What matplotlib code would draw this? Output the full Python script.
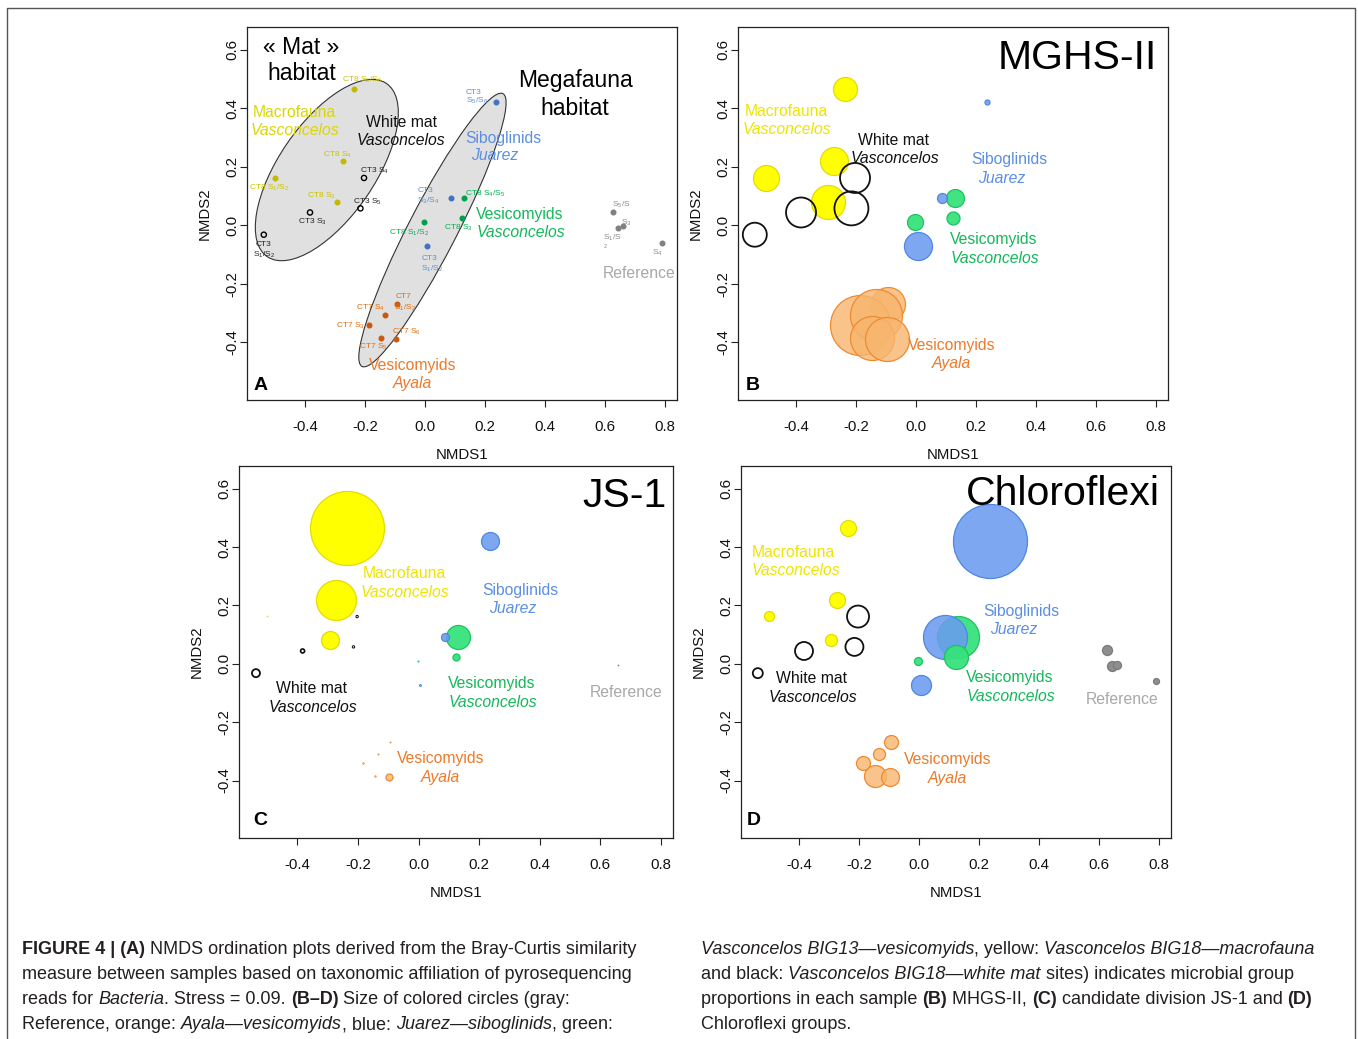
import matplotlib
matplotlib.use("Agg")
import matplotlib.pyplot as plt
from matplotlib.transforms import Affine2D
from matplotlib.patches import Ellipse
from matplotlib.lines import Line2D
from matplotlib.font_manager import FontProperties
from matplotlib.colors import to_rgba

plt.rcParams['font.family'] = ['Liberation Sans', 'DejaVu Sans']
plt.rcParams['mathtext.fontset'] = 'custom'
plt.rcParams['mathtext.rm'] = 'Liberation Sans'
plt.rcParams['mathtext.it'] = 'Liberation Sans:italic'
plt.rcParams['mathtext.bf'] = 'Liberation Sans:bold'
plt.rcParams['axes.unicode_minus'] = False

# ------------------------------------------------------------------ data
# NMDS coordinates per group (same ordination in every panel)
mac_lab = ['CT8 S1/S2', 'CT8 S3', 'CT8 S4', 'CT8 S5/S6']
mac_x = [-0.500, -0.293, -0.272, -0.237]
mac_y = [0.163, 0.081, 0.219, 0.467]

wm_lab = ['CT3 S1/S2', 'CT3 S3', 'CT3 S4', 'CT3 S5']
wm_x = [-0.537, -0.383, -0.203, -0.215]
wm_y = [-0.032, 0.044, 0.162, 0.058]

sib_lab = ['CT3 S1/S2', 'CT3 S3/S4', 'CT3 S5/S6']
sib_x = [0.006, 0.088, 0.237]
sib_y = [-0.072, 0.092, 0.421]

vesv_lab = ['CT8 S1/S2', 'CT8 S3', 'CT8 S4/S5']
vesv_x = [-0.003, 0.122, 0.130]
vesv_y = [0.010, 0.024, 0.092]

aya_lab = ['CT7 S1/S2', 'CT7 S3', 'CT7 S4', 'CT7 S5', 'CT7 S6']
aya_x = [-0.093, -0.185, -0.133, -0.145, -0.097]
aya_y = [-0.268, -0.339, -0.308, -0.385, -0.388]

ref_lab = ['S1/S2', 'S3', 'S4', 'S5/S6']
ref_x = [0.643, 0.660, 0.789, 0.627]
ref_y = [-0.008, -0.003, -0.060, 0.047]

# relative bubble magnitude (radius units) of each microbial group per sample
mghs_mac = [13, 17, 14, 12]
mghs_wm = [12, 15, 15, 17]
mghs_sib = [14, 5, 2.5]
mghs_vesv = [8, 6.5, 9]
mghs_aya = [17, 30, 26, 22, 22]
mghs_ref = [0, 0, 0, 0]

js1_mac = [0.6, 9, 20, 37]
js1_wm = [4, 2, 1.2, 1.2]
js1_sib = [1, 4, 9]
js1_vesv = [0.7, 3.5, 12]
js1_aya = [0.7, 0.8, 0.7, 0.8, 3.5]
js1_ref = [0, 0.6, 0, 0]

chl_mac = [5, 6, 8, 8]
chl_wm = [5, 9, 11, 9]
chl_sib = [10, 22, 37]
chl_vesv = [4, 12, 21]
chl_aya = [7, 7, 6, 11, 9]
chl_ref = [5, 4, 3, 5]

x_ticks = [-0.4, -0.2, 0.0, 0.2, 0.4, 0.6, 0.8]
y_ticks = [-0.4, -0.2, 0.0, 0.2, 0.4, 0.6]
x_ticklabels = ['-0.4', '-0.2', '0.0', '0.2', '0.4', '0.6', '0.8']
y_ticklabels = ['-0.4', '-0.2', '0.0', '0.2', '0.4', '0.6']

# ------------------------------------------------------------------ figure
W, H = 1358, 1039
fig = plt.figure(figsize=(W / 100, H / 100), dpi=100)
PX = Affine2D().scale(1.0 / W, -1.0 / H).translate(0, 1) + fig.transFigure

XL = (-0.593, 0.84)
YL = (-0.597, 0.678)


def make_ax(l, t, r, b):
    ax = fig.add_axes([l / W, 1 - b / H, (r - l) / W, (b - t) / H])
    ax.set_xlim(*XL)
    ax.set_ylim(*YL)
    ax.set_xticks(x_ticks, x_ticklabels)
    ax.set_yticks(y_ticks, y_ticklabels, rotation=90, va='center')
    ax.tick_params(axis='both', direction='out', length=5, width=0.8,
                   labelsize=10.8, color='#222222', labelcolor='#111111')
    ax.tick_params(axis='x', pad=9.3)
    ax.tick_params(axis='y', pad=0.5)
    for s in ax.spines.values():
        s.set_linewidth(0.9)
        s.set_color('#222222')
    return ax


boxes = {'A': (247, 27, 677, 400), 'B': (738, 27, 1168, 400),
         'C': (239, 466, 673, 838), 'D': (741, 466, 1171, 838)}
axes = {k: make_ax(*v) for k, v in boxes.items()}

for k, (l, t, r, b) in boxes.items():
    cx = (l + r) / 2
    fig.text(cx, b + 55, 'NMDS1', transform=PX, ha='center', va='center',
             fontsize=10.8, color='#111111')
    fig.text(l - 42, (t + b) / 2, 'NMDS2', transform=PX, ha='center',
             va='center', rotation=90, fontsize=10.8, color='#111111')

# frame around the figure
fig.add_artist(Line2D([7, 7, 1355, 1355], [1039, 8, 8, 1039], transform=PX,
                      color='#555555', lw=1.0))


def ptxt(x, y, s, color, size=11.3, style='normal', weight='normal',
         ha='center', va='baseline'):
    fig.text(x, y, s, transform=PX, ha=ha, va=va, color=color,
             fontsize=size, fontstyle=style, fontweight=weight, zorder=20)


YEL_T = '#efe400'
BLU_T = '#5b8fe2'
GRN_T = '#13b85a'
ORA_T = '#ec7a2a'
REF_T = '#a8a8a8'

# ------------------------------------------------------------------ panel A
ax = axes['A']
ax.add_patch(Ellipse((-0.327, 0.189), 0.713, 0.321, angle=56.4,
                     facecolor='#e0e0e0', edgecolor='#333333', lw=0.8, zorder=1))
ax.add_patch(Ellipse((0.025, -0.016), 1.044, 0.162, angle=63.3,
                     facecolor='#e0e0e0', edgecolor='#333333', lw=0.8, zorder=1))
ax.scatter(mac_x, mac_y, s=11, color='#c2b900', zorder=3)
ax.scatter(wm_x, wm_y, s=14, facecolor='none', edgecolor='black', lw=1.0, zorder=3)
ax.scatter(sib_x, sib_y, s=11, color='#4472c4', zorder=3)
ax.scatter(vesv_x, vesv_y, s=11, color='#00a04a', zorder=3)
ax.scatter(aya_x, aya_y, s=11, color='#c55a11', zorder=3)
ax.scatter(ref_x, ref_y, s=11, color='#808080', zorder=3)

S = 6


def sub(a, b=None):
    if b is None:
        return r'$\mathrm{S}_{%s}$' % a
    return r'$\mathrm{S}_{%s}/\mathrm{S}_{%s}$' % (a, b)


YA = '#c9c200'
for s, x, y in [('CT8 ' + sub(5, 6), 362, 80), ('CT8 ' + sub(4), 337, 155),
                ('CT8 ' + sub(1, 2), 269, 188), ('CT8 ' + sub(3), 321, 196)]:
    ptxt(x, y, s, YA, size=S, va='center')
for s, x, y in [('CT3 ' + sub(4), 374, 171), ('CT3 ' + sub(5), 367, 202),
                ('CT3 ' + sub(3), 312, 222), ('CT3', 264, 245), (sub(1, 2), 264, 255)]:
    ptxt(x, y, s, '#222222', size=S, va='center')
for s, x, y in [('CT3', 474, 92), (sub(5, 6), 477, 101), ('CT3', 426, 191),
                (sub(3, 4), 428, 201), ('CT3', 430, 259), (sub(1, 2), 432, 269)]:
    ptxt(x, y, s, '#5b8fd9', size=S, va='center')
for s, x, y in [('CT8 ' + sub(4, 5), 485, 194), ('CT8 ' + sub(1, 2), 409, 233),
                ('CT8 ' + sub(3), 458, 228)]:
    ptxt(x, y, s, '#00b050', size=S, va='center')
for s, x, y in [('CT7', 403, 297), (sub(1, 2), 405, 308), ('CT7 ' + sub(4), 370, 308),
                ('CT7 ' + sub(3), 350, 326), ('CT7 ' + sub(6), 406, 332),
                ('CT7 ' + sub(5), 373, 347)]:
    ptxt(x, y, s, '#e46c0a', size=S, va='center')
for s, x, y in [(r'$\mathrm{S}_{5}/\mathrm{S}$', 621, 205), (sub(3), 626, 223),
                (r'$\mathrm{S}_{1}/\mathrm{S}$', 612, 238), ('2', 605, 247),
                (sub(4), 657, 253)]:
    ptxt(x, y, s, '#8a8a8a', size=S if s != '2' else 4, va='center')

ptxt(301, 54, '« Mat »', 'black', size=16.5)
ptxt(301.5, 80, 'habitat', 'black', size=16.5)
ptxt(575, 87, 'Megafauna', 'black', size=16.5)
ptxt(575, 115, 'habitat', 'black', size=16.5)
ptxt(294.5, 117, 'Macrofauna', '#dcd600')
ptxt(295, 135, 'Vasconcelos', '#dcd600', style='italic')
ptxt(401, 127, 'White mat', '#111111')
ptxt(401, 145, 'Vasconcelos', '#111111', style='italic')
ptxt(503.5, 143, 'Siboglinids', BLU_T)
ptxt(495, 160, 'Juarez', BLU_T, style='italic')
ptxt(520, 219, 'Vesicomyids', GRN_T)
ptxt(520.5, 237, 'Vasconcelos', GRN_T, style='italic')
ptxt(413, 370, 'Vesicomyids', ORA_T)
ptxt(412, 388, 'Ayala', ORA_T, style='italic')
ptxt(639.5, 278, 'Reference', REF_T)
ptxt(254, 390, 'A', 'black', size=14, weight='bold', ha='left')

# ------------------------------------------------------------------ bubble panels
STY = {
    'ref': dict(fc=to_rgba('#8e8e8e', 1.0), ec='#7a7a7a', z=2),
    'aya': dict(fc=to_rgba('#f7b66f', 0.8), ec='#ef8a2e', z=3),
    'mac': dict(fc=to_rgba('#ffff00', 1.0), ec='#e4dc00', z=4),
    'wm': dict(fc='none', ec='#111111', z=5),
    'vesv': dict(fc=to_rgba('#37e27c', 0.95), ec='#1fc263', z=6),
    'sib': dict(fc=to_rgba('#6b9cf0', 0.88), ec='#4f86e4', z=7),
}
COORD = {'ref': (ref_x, ref_y), 'aya': (aya_x, aya_y), 'mac': (mac_x, mac_y),
         'wm': (wm_x, wm_y), 'vesv': (vesv_x, vesv_y), 'sib': (sib_x, sib_y)}


def bubbles(ax, sizes):
    for g, vals in sizes.items():
        xs, ys = COORD[g]
        st = STY[g]
        for i, (x, y, r) in enumerate(zip(xs, ys, vals)):
            if r <= 0:
                continue
            z = st['z']
            if g == 'vesv' and i < 2:
                z = 8
            lw = 1.3 if g == 'wm' else 0.9
            lw = min(lw, r * 0.6)
            ax.scatter([x], [y], s=(1.44 * r) ** 2, facecolor=st['fc'],
                       edgecolor=st['ec'], linewidth=lw, zorder=z)


bubbles(axes['B'], {'ref': mghs_ref, 'aya': mghs_aya, 'mac': mghs_mac,
                    'wm': mghs_wm, 'vesv': mghs_vesv, 'sib': mghs_sib})
bubbles(axes['C'], {'ref': js1_ref, 'aya': js1_aya, 'mac': js1_mac,
                    'wm': js1_wm, 'vesv': js1_vesv, 'sib': js1_sib})
bubbles(axes['D'], {'ref': chl_ref, 'aya': chl_aya, 'mac': chl_mac,
                    'wm': chl_wm, 'vesv': chl_vesv, 'sib': chl_sib})

# panel B texts
ptxt(1157, 69, 'MGHS-II', 'black', size=29.5, ha='right')
ptxt(786.5, 116, 'Macrofauna', YEL_T)
ptxt(787, 134, 'Vasconcelos', YEL_T, style='italic')
ptxt(893.5, 145, 'White mat', '#111111')
ptxt(894.5, 163, 'Vasconcelos', '#111111', style='italic')
ptxt(1009.5, 164, 'Siboglinids', BLU_T)
ptxt(1001.5, 183, 'Juarez', BLU_T, style='italic')
ptxt(994, 244, 'Vesicomyids', GRN_T)
ptxt(994.5, 263, 'Vasconcelos', GRN_T, style='italic')
ptxt(952, 350, 'Vesicomyids', ORA_T)
ptxt(951, 368, 'Ayala', ORA_T, style='italic')
ptxt(746, 390, 'B', 'black', size=14, weight='bold', ha='left')

# panel C texts
ptxt(667, 507, 'JS-1', 'black', size=29.5, ha='right')
ptxt(404.5, 578, 'Macrofauna', YEL_T)
ptxt(404.5, 597, 'Vasconcelos', YEL_T, style='italic')
ptxt(520, 595, 'Siboglinids', BLU_T)
ptxt(512.5, 613, 'Juarez', BLU_T, style='italic')
ptxt(312, 693, 'White mat', '#111111')
ptxt(312.5, 712, 'Vasconcelos', '#111111', style='italic')
ptxt(492, 688, 'Vesicomyids', GRN_T)
ptxt(492.5, 707, 'Vasconcelos', GRN_T, style='italic')
ptxt(626, 697, 'Reference', REF_T)
ptxt(441, 763, 'Vesicomyids', ORA_T)
ptxt(440, 782, 'Ayala', ORA_T, style='italic')
ptxt(253, 825, 'C', 'black', size=14, weight='bold', ha='left')

# panel D texts
ptxt(1160, 505, 'Chloroflexi', 'black', size=29.5, ha='right')
ptxt(793.5, 557, 'Macrofauna', YEL_T)
ptxt(795.5, 575, 'Vasconcelos', YEL_T, style='italic')
ptxt(1021.5, 616, 'Siboglinids', BLU_T)
ptxt(1013.5, 634, 'Juarez', BLU_T, style='italic')
ptxt(811.5, 683, 'White mat', '#111111')
ptxt(812.5, 702, 'Vasconcelos', '#111111', style='italic')
ptxt(1009.5, 682, 'Vesicomyids', GRN_T)
ptxt(1010.5, 701, 'Vasconcelos', GRN_T, style='italic')
ptxt(1122.5, 704, 'Reference', REF_T)
ptxt(947.5, 764, 'Vesicomyids', ORA_T)
ptxt(947, 783, 'Ayala', ORA_T, style='italic')
ptxt(747, 825, 'D', 'black', size=14, weight='bold', ha='left')

# ------------------------------------------------------------------ caption
renderer = fig.canvas.get_renderer()
CAP_FAMILY = 'Liberation Sans'


def fprop(size, kind):
    return FontProperties(family=CAP_FAMILY, size=size,
                          weight='bold' if kind == 'b' else 'normal',
                          style='italic' if kind == 'i' else 'normal')


def width(s, size, kind):
    fp = fprop(size, kind)
    w1 = renderer.get_text_width_height_descent(s + '|', fp, ismath=False)[0]
    w2 = renderer.get_text_width_height_descent('|', fp, ismath=False)[0]
    return w1 - w2


ref_line = 'measure between samples based on taxonomic affiliation of pyrosequencing'
cap_size = 10 * 610 / width(ref_line, 10, 'n') * 100 / 72 * 72 / 100

left_lines = [
    [('FIGURE 4 | (A)', 'b'), (' NMDS ordination plots derived from the Bray-Curtis similarity', 'n')],
    [(ref_line, 'n')],
    [('reads for ', 'n'), ('Bacteria', 'i'), ('. Stress = 0.09. ', 'n'), ('(B–D)', 'b'),
     (' Size of colored circles (gray:', 'n')],
    [('Reference, orange: ', 'n'), ('Ayala—vesicomyids', 'i'), (', blue: ', 'n'),
     ('Juarez—siboglinids', 'i'), (', green:', 'n')],
]
right_lines = [
    [('Vasconcelos BIG13—vesicomyids', 'i'), (', yellow: ', 'n'),
     ('Vasconcelos BIG18—macrofauna', 'i')],
    [('and black: ', 'n'), ('Vasconcelos BIG18—white mat', 'i'),
     (' sites) indicates microbial group', 'n')],
    [('proportions in each sample ', 'n'), ('(B)', 'b'), (' MHGS-II, ', 'n'), ('(C)', 'b'),
     (' candidate division JS-1 and ', 'n'), ('(D)', 'b')],
    [('Chloroflexi groups.', 'n')],
]
baselines = [954, 979, 1004, 1029]


def draw_lines(x0, lines):
    for yb, runs in zip(baselines, lines):
        x = x0
        for s, kind in runs:
            fp = fprop(cap_size, kind)
            fig.text(x, yb, s, transform=PX, fontproperties=fp, ha='left',
                     va='baseline', color='#231f20')
            x += width(s, cap_size, kind)


draw_lines(22, left_lines)
draw_lines(701, right_lines)

fig.savefig('out.png', dpi=100)
